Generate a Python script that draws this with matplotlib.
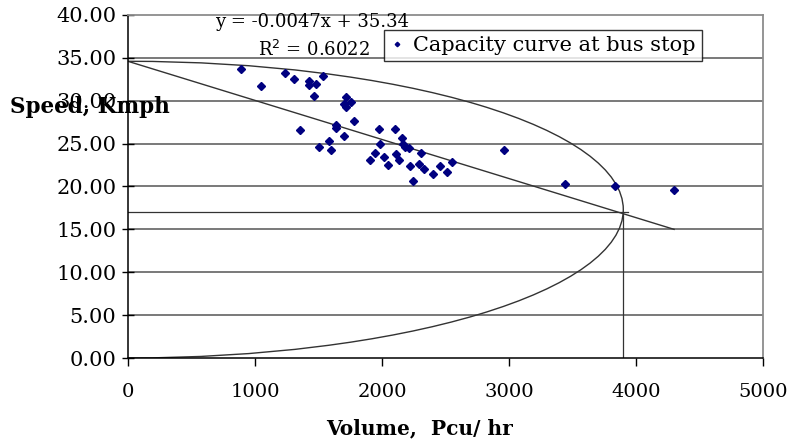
import matplotlib.pyplot as plt
from matplotlib.patches import Arc

# observed speed-volume points at the bus stop
volume = [893, 1044, 1233, 1311, 1429, 1429, 1481, 1539, 1468, 1717,
          1704, 1756, 1717, 1782, 1639, 1639, 1358, 1704, 1581, 1500,
          1602, 1908, 1947, 1979, 2104, 2157, 1984, 2162, 2183, 2209,
          2306, 2013, 2110, 2136, 2044, 2222, 2293, 2327, 2248, 2405,
          2458, 2510, 2555, 2960, 3439, 3832, 4303]
speed = [33.7, 31.7, 33.2, 32.5, 32.3, 31.8, 31.95, 32.9, 30.5, 30.4,
         29.6, 29.8, 29.3, 27.6, 27.2, 26.8, 26.6, 25.9, 25.3, 24.6,
         24.2, 23.1, 23.9, 26.7, 26.7, 25.7, 25.0, 25.0, 24.6, 24.5,
         23.9, 23.4, 23.8, 23.1, 22.5, 22.4, 22.6, 22.0, 20.6, 21.5,
         22.4, 21.7, 22.8, 24.3, 20.25, 20.06, 19.6]

# hand drawn construction lines
trend_x = [0, 4300]
trend_y = [34.6, 15.0]
free_speed = 34.6
capacity = 3900
crit_speed = 17.0

xticks = [0, 1000, 2000, 3000, 4000, 5000]
yticks = [0, 5, 10, 15, 20, 25, 30, 35, 40]

plt.rcParams['font.family'] = ['DejaVu Serif']

fig = plt.figure(figsize=(7.96, 4.41), dpi=100)
ax = fig.add_axes([128/796, 1 - 358/441, 635/796, 343/441])

for y in yticks[1:-1]:
    ax.axhline(y, color='#6e6e6e', lw=1.3, zorder=1)

ax.add_patch(Arc((0, free_speed / 2), 2 * capacity, free_speed,
                 theta1=-90, theta2=90, color='#333333', lw=1.0, zorder=2))
ax.plot(trend_x, trend_y, color='#333333', lw=1.0, zorder=2)
ax.plot([0, capacity + 40], [crit_speed, crit_speed], color='#333333', lw=0.9, zorder=2)
ax.plot([capacity, capacity], [0, crit_speed], color='#333333', lw=0.9, zorder=2)

ax.plot(volume, speed, 'D', color='#000080', ms=3.8, ls='none',
        label='Capacity curve at bus stop', zorder=3)

ax.set_xlim(0, 5000)
ax.set_ylim(0, 40)
ax.set_xticks(xticks)
ax.set_yticks(yticks)
ax.set_yticklabels(['%.2f' % v for v in yticks])
ax.tick_params(axis='y', direction='inout', length=9, width=1, pad=4, labelsize=15)
ax.tick_params(axis='x', direction='out', length=6, width=1, pad=12, labelsize=14)

for s in ['left', 'bottom']:
    ax.spines[s].set_color('black')
    ax.spines[s].set_linewidth(1.1)
for s in ['top', 'right']:
    ax.spines[s].set_color('#8c8c8c')
    ax.spines[s].set_linewidth(1.3)

leg = ax.legend(loc='upper left', bbox_to_anchor=(256/635, 1 - 15/343 + 0.001),
                fontsize=15, frameon=True, fancybox=False, handlelength=0.6,
                handletextpad=0.5, borderpad=0.3, borderaxespad=0, markerscale=0.6)
leg.get_frame().set_edgecolor('black')
leg.get_frame().set_linewidth(1.0)

fig.text(215/796, 1 - 22/441, 'y = -0.0047x + 35.34', fontsize=13, va='center', ha='left')
fig.text(258/796, 1 - 50/441, 'R$^2$ = 0.6022', fontsize=13, va='center', ha='left')

fig.text(10/796, 1 - 107/441, 'Speed, Kmph', fontsize=15.5, fontweight='bold',
         va='center', ha='left')
fig.text(420/796, 1 - 428/441, 'Volume,  Pcu/ hr', fontsize=14.5, fontweight='bold',
         va='center', ha='center')

fig.savefig('out.png', dpi=100)
